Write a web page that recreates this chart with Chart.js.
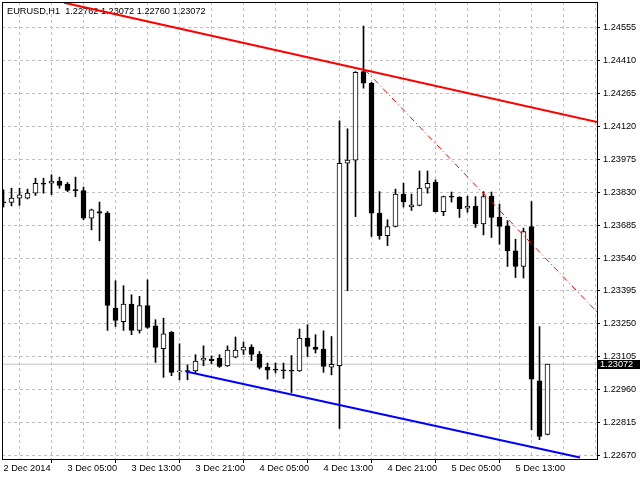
<!DOCTYPE html>
<html>
<head>
<meta charset="utf-8">
<script src="https://cdn.jsdelivr.net/npm/chart.js@4.4.1/dist/chart.umd.min.js"></script>
<style>
  html, body { margin: 0; padding: 0; background: #fff; }
  #wrap { width: 640px; height: 480px; }
</style>
</head>
<body>
<div id="wrap"><canvas id="eurusd" width="640" height="480"></canvas></div>
<script>
// EURUSD H1, one bar per hour, bar 0 = 2 Dec 21:00
const opens = [
  1.23785, 1.23785, 1.23804, 1.23804, 1.23826, 1.23870, 1.23870, 1.23879, 1.23866, 1.23838,
  1.23838, 1.23716, 1.23745, 1.23738, 1.23319, 1.23260, 1.23337, 1.23221, 1.23331, 1.23241,
  1.23141, 1.23214, 1.23038, 1.23043, 1.23042, 1.23090, 1.23095, 1.23099, 1.23064, 1.23103,
  1.23134, 1.23148, 1.23117, 1.23059, 1.23051, 1.23046, 1.23042, 1.23042, 1.23187, 1.23148,
  1.23139, 1.23059, 1.23066, 1.23958, 1.23972, 1.24362, 1.24311, 1.23738, 1.23639, 1.23679,
  1.23822, 1.23765, 1.23772, 1.23848, 1.23875, 1.23745, 1.23810, 1.23809, 1.23760, 1.23769,
  1.23690, 1.23813, 1.23720, 1.23682, 1.23572, 1.23503, 1.23679, 1.22999, 1.22762
];
const highs = [
  1.23841, 1.23848, 1.23848, 1.23844, 1.23892, 1.23892, 1.23907, 1.23897, 1.23873, 1.23897,
  1.23853, 1.23756, 1.23787, 1.23745, 1.23440, 1.23418, 1.23378, 1.23371, 1.23444, 1.23268,
  1.23275, 1.23216, 1.23162, 1.23069, 1.23114, 1.23153, 1.23109, 1.23114, 1.23153, 1.23192,
  1.23170, 1.23158, 1.23128, 1.23077, 1.23077, 1.23077, 1.23110, 1.23227, 1.23246, 1.23202,
  1.23219, 1.23194, 1.24145, 1.24110, 1.24362, 1.24563, 1.24315, 1.23833, 1.23709, 1.23844,
  1.23870, 1.23822, 1.23924, 1.23924, 1.23885, 1.23813, 1.23831, 1.23811, 1.23813, 1.23811,
  1.23833, 1.23831, 1.23778, 1.23705, 1.23623, 1.23672, 1.23789, 1.23238, 1.23072
];
const lows = [
  1.23765, 1.23770, 1.23772, 1.23801, 1.23816, 1.23826, 1.23820, 1.23848, 1.23833, 1.23811,
  1.23709, 1.23664, 1.23616, 1.23221, 1.23238, 1.23221, 1.23202, 1.23209, 1.23230, 1.23080,
  1.23014, 1.23021, 1.23003, 1.23003, 1.23033, 1.23065, 1.23074, 1.23058, 1.23062, 1.23100,
  1.23115, 1.23088, 1.23051, 1.23006, 1.23033, 1.23009, 1.22947, 1.23040, 1.23106, 1.23121,
  1.23036, 1.23025, 1.22789, 1.23396, 1.23723, 1.24289, 1.23635, 1.23623, 1.23595, 1.23677,
  1.23765, 1.23750, 1.23770, 1.23826, 1.23743, 1.23727, 1.23787, 1.23719, 1.23742, 1.23675,
  1.23642, 1.23631, 1.23601, 1.23503, 1.23454, 1.23452, 1.22783, 1.22739, 1.22760
];
const closes = [
  1.23784, 1.23804, 1.23819, 1.23826, 1.23870, 1.23866, 1.23879, 1.23860, 1.23838, 1.23837,
  1.23716, 1.23753, 1.23738, 1.23331, 1.23265, 1.23337, 1.23221, 1.23331, 1.23234, 1.23146,
  1.23206, 1.23036, 1.23039, 1.23040, 1.23086, 1.23099, 1.23088, 1.23062, 1.23134, 1.23134,
  1.23148, 1.23115, 1.23058, 1.23046, 1.23046, 1.23043, 1.23041, 1.23187, 1.23150, 1.23137,
  1.23062, 1.23071, 1.23958, 1.23972, 1.24359, 1.24311, 1.23738, 1.23639, 1.23679, 1.23822,
  1.23787, 1.23775, 1.23848, 1.23870, 1.23745, 1.23811, 1.23809, 1.23758, 1.23769, 1.23690,
  1.23811, 1.23719, 1.23679, 1.23573, 1.23503, 1.23657, 1.23006, 1.22754, 1.23072
];

// time labels (bar index -> text), grid every 4 bars
const xLabels = {
  0: '2 Dec 2014', 8: '3 Dec 05:00', 16: '3 Dec 13:00', 24: '3 Dec 21:00',
  32: '4 Dec 05:00', 40: '4 Dec 13:00', 48: '4 Dec 21:00', 56: '5 Dec 05:00', 64: '5 Dec 13:00'
};
const xGridIdx = [0, 4, 8, 12, 16, 20, 24, 28, 32, 36, 40, 44, 48, 52, 56, 60, 64, 68, 72];
const yTicks = [
  1.22670, 1.22815, 1.22960, 1.23105, 1.23250, 1.23395, 1.23540,
  1.23685, 1.23830, 1.23975, 1.24120, 1.24265, 1.24410, 1.24555
];

// trend lines drawn on the chart (bar index, price)
const redTrend = [{ x: 7.56, y: 1.24666 }, { x: 74.19, y: 1.24140 }];
const redDashTrend = [{ x: 45.19, y: 1.24370 }, { x: 74.19, y: 1.23302 }];
const blueTrend = [{ x: 22.81, y: 1.23040 }, { x: 72.06, y: 1.22661 }];

const X_MIN = -0.1875, X_MAX = 74.1875;
const Y_MIN = 1.22654, Y_MAX = 1.24669;
const FAMILY = '"Liberation Sans", Arial, sans-serif';
const FONT = '9.2px ' + FAMILY;

const last = opens.length - 1;
const lastPrice = closes[last];
const header = 'EURUSD,H1  ' + [opens[last], highs[last], lows[last], closes[last]].map(v => v.toFixed(5)).join(' ');

const wickData = lows.map((l, i) => ({ x: i, y: [l, highs[i]] }));
const bodyData = opens.map((o, i) => ({ x: i, y: [o, closes[i]] }));
const bodyColors = opens.map((o, i) => closes[i] >= o ? '#ffffff' : '#000000');
const bidLine = [{ x: X_MIN, y: lastPrice }, { x: X_MAX, y: lastPrice }];

// header text, frame and the bid price box like the terminal draws them
const mt4Decor = {
  id: 'mt4Decor',
  beforeDatasetsDraw(chart) {
    const ctx = chart.ctx;
    ctx.save();
    ctx.font = FONT;
    ctx.fillStyle = '#000';
    ctx.textBaseline = 'middle';
    ctx.fillText(header, 7, 11);
    ctx.restore();
  },
  afterDraw(chart) {
    const { ctx, chartArea: a } = chart;
    ctx.save();
    ctx.strokeStyle = '#000';
    ctx.lineWidth = 1;
    ctx.strokeRect(a.left + 0.5, a.top + 0.5, a.width, a.height);
    const py = Math.round(chart.scales.y.getPixelForValue(lastPrice));
    ctx.fillStyle = '#000';
    ctx.fillRect(a.right + 1, py - 4, chart.width - a.right - 1, 9);
    ctx.fillStyle = '#fff';
    ctx.font = FONT;
    ctx.textBaseline = 'middle';
    ctx.fillText(lastPrice.toFixed(5), a.right + 3, py + 0.5);
    ctx.restore();
  }
};

Chart.defaults.font.family = FAMILY;
Chart.defaults.font.size = 9.2;
Chart.defaults.color = '#000';

new Chart(document.getElementById('eurusd'), {
  type: 'bar',
  data: {
    datasets: [
      { type: 'line', data: redTrend, borderColor: '#ff0000', borderWidth: 2, pointRadius: 0, order: 0 },
      { type: 'line', data: redDashTrend, borderColor: '#ff0000', borderWidth: 1, borderDash: [6, 3, 1, 3], pointRadius: 0, order: 0 },
      { type: 'line', data: blueTrend, borderColor: '#0000ff', borderWidth: 2, pointRadius: 0, order: 0 },
      {
        type: 'bar', data: bodyData, backgroundColor: bodyColors, borderColor: '#000', borderWidth: 1,
        borderSkipped: false, barThickness: 5, minBarLength: 1, grouped: false, order: 2
      },
      { type: 'bar', data: wickData, backgroundColor: '#000', borderWidth: 0, barThickness: 1, grouped: false, order: 3 },
      { type: 'line', data: bidLine, borderColor: '#c0c0c0', borderWidth: 1, pointRadius: 0, order: 4 }
    ]
  },
  options: {
    responsive: false,
    animation: false,
    layout: { padding: { left: 2, top: 2, right: 0, bottom: 0 } },
    plugins: { legend: { display: false }, tooltip: { enabled: false }, title: { display: false } },
    scales: {
      x: {
        type: 'linear', position: 'bottom', min: X_MIN, max: X_MAX, offset: false,
        afterBuildTicks: s => { s.ticks = xGridIdx.map(v => ({ value: v })); },
        afterFit: s => { s.height = 21; s.paddingLeft = 0; s.paddingRight = 0; },
        ticks: { autoSkip: false, maxRotation: 0, minRotation: 0, align: 'start', padding: 0, callback: v => xLabels[v] || '' },
        grid: {
          color: c => (c.tick && c.tick.value === 0) ? 'rgba(0,0,0,0)' : '#c0c0c0',
          tickColor: c => (c.tick && xLabels[c.tick.value]) ? '#000' : 'rgba(0,0,0,0)',
          tickLength: 4, tickBorderDash: []
        },
        border: { display: true, color: '#000', dash: [3, 3] }
      },
      y: {
        type: 'linear', position: 'right', min: Y_MIN, max: Y_MAX,
        afterBuildTicks: s => { s.ticks = yTicks.map(v => ({ value: v })); },
        afterFit: s => { s.width = 43; s.paddingTop = 0; s.paddingBottom = 0; },
        ticks: { padding: 3, callback: v => v.toFixed(5) },
        grid: { color: '#c0c0c0', tickColor: '#000', tickLength: 3, tickBorderDash: [] },
        border: { display: true, color: '#000', dash: [3, 3] }
      }
    }
  },
  plugins: [mt4Decor]
});
</script>
</body>
</html>
